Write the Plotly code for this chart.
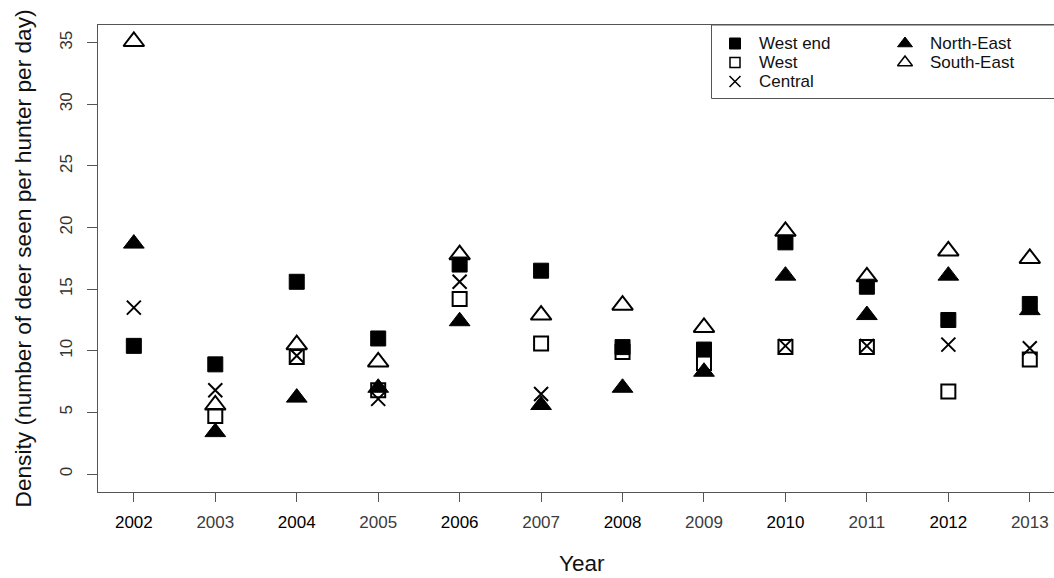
import plotly.graph_objects as go

# Survey years and deer density per area (deer seen per hunter per day)
years = [2002, 2003, 2004, 2005, 2006, 2007, 2008, 2009, 2010, 2011, 2012, 2013]
west_end = [10.4, 8.9, 15.6, 11.0, 17.0, 16.5, 10.3, 10.1, 18.8, 15.2, 12.5, 13.8]
west = [None, 4.7, 9.5, 6.8, 14.2, 10.6, 9.9, 9.0, 10.3, 10.3, 6.7, 9.3]
central = [13.5, 6.8, 9.6, 6.1, 15.6, 6.5, None, None, 10.4, 10.4, 10.5, 10.2]
north_east = [18.7, 3.4, 6.2, 7.0, 12.4, 5.6, 7.0, 8.3, 16.1, 12.9, 16.1, 13.3]
south_east = [35.1, 5.6, 10.5, 9.1, 17.8, 12.9, 13.7, 11.9, 19.7, 16.0, 18.1, 17.5]

area_names = ["West end", "West", "Central", "North-East", "South-East"]
y_ticks = [0, 5, 10, 15, 20, 25, 30, 35]
x_title = "Year"
y_title = "Density (number of deer seen per hunter per day)"

FONT = "Liberation Sans, Arial, Helvetica, sans-serif"
INK = "#000000"
AXIS = "#555555"

# page / plot-area geometry (pixels)
W, H = 1054, 578
L, T, B = 98, 25, 86
PLOT_W = W - L
PLOT_H = H - T - B
PX_PER_YEAR = 81.45
X0 = 2001.56
X1 = X0 + PLOT_W / PX_PER_YEAR
X_FULL_END = 2013.44  # right end of the (cropped) plot frame

# marker styles for each area: (symbol, size, line width)
styles = [
    ("square", 15, 1),
    ("square-open", 14, 2),
    ("x-thin", 14, 2),
    ("triangle-up", 18, 1),
    ("triangle-up-open", 18, 2),
]
legend_styles = [
    ("square", 11, 1),
    ("square-open", 10, 1.5),
    ("x-thin", 11, 1.5),
    ("triangle-up", 13, 1),
    ("triangle-up-open", 13, 1.5),
]
series = [west_end, west, central, north_east, south_east]

fig = go.Figure()
for name, vals, (sym, size, lw) in zip(area_names, series, styles):
    fig.add_trace(go.Scatter(
        x=years, y=vals, mode="markers", name=name,
        marker=dict(symbol=sym, size=size, color=INK,
                    line=dict(color=INK, width=lw)),
        cliponaxis=False, hoverinfo="x+y+name",
    ))

# legend box, keys and labels (two columns)
def px_x(px):
    return (px - L) / PLOT_W

def px_y(py):
    return (T + PLOT_H - py) / PLOT_H

col_key = [735, 905]
col_txt = [757, 928]
row_y = [43.5, 62.5, 81.5]
slots = [(0, 0), (0, 1), (0, 2), (1, 0), (1, 1)]

for name, (sym, size, lw), (c, r) in zip(area_names, legend_styles, slots):
    fig.add_trace(go.Scatter(
        x=[px_x(col_key[c])], y=[px_y(row_y[r])], mode="markers",
        xaxis="x2", yaxis="y2", showlegend=False, hoverinfo="skip",
        marker=dict(symbol=sym, size=size, color=INK,
                    line=dict(color=INK, width=lw)),
    ))
    fig.add_annotation(
        x=px_x(col_txt[c]), y=px_y(row_y[r]), xref="paper", yref="paper",
        text=name, showarrow=False, xanchor="left", yanchor="middle",
        font=dict(family=FONT, size=17, color="#111"),
    )

fig.add_shape(type="rect", xref="paper", yref="paper",
              x0=px_x(711.5), x1=px_x(1065), y0=px_y(98.5), y1=1,
              line=dict(color=AXIS, width=1), fillcolor="rgba(0,0,0,0)")

# axis titles
fig.add_annotation(x=(X0 + X_FULL_END) / 2, xref="x", y=0, yref="paper",
                   yshift=-71, text=x_title, showarrow=False,
                   xanchor="center", yanchor="middle",
                   font=dict(family=FONT, size=22.5, color="#111"))
fig.add_annotation(x=0, xref="paper", xshift=22 - L, y=0.5, yref="paper",
                   text=y_title, textangle=-90, showarrow=False,
                   xanchor="center", yanchor="middle",
                   font=dict(family=FONT, size=22.7, color="#111"))

year_labels = [
    f'<span style="color:{"#000" if y % 2 == 0 else "#3c3c3c"}">{y}</span>'
    for y in years
]

fig.update_layout(
    width=W, height=H,
    margin=dict(l=L, r=0, t=T, b=B, pad=0),
    paper_bgcolor="white", plot_bgcolor="white",
    showlegend=False,
    font=dict(family=FONT, color="#111"),
    xaxis=dict(
        range=[X0, X1], tickmode="array", tickvals=years, ticktext=year_labels,
        ticks="outside", ticklen=9, tickwidth=1, tickcolor=AXIS,
        showline=True, linecolor=AXIS, linewidth=1, mirror=True,
        showgrid=False, zeroline=False, ticklabelstandoff=6,
        tickfont=dict(family=FONT, size=17, color="#111"),
    ),
    yaxis=dict(
        range=[-1.46, 36.44], tickmode="array", tickvals=y_ticks,
        tickangle=-90, ticks="outside", ticklen=10, tickwidth=1, tickcolor=AXIS,
        showline=True, linecolor=AXIS, linewidth=1, mirror=False,
        showgrid=False, zeroline=False, ticklabelstandoff=8,
        tickfont=dict(family=FONT, size=17, color="#333"),
    ),
    xaxis2=dict(overlaying="x", range=[0, 1], visible=False),
    yaxis2=dict(overlaying="y", range=[0, 1], visible=False),
)

fig.write_html("out.html")
